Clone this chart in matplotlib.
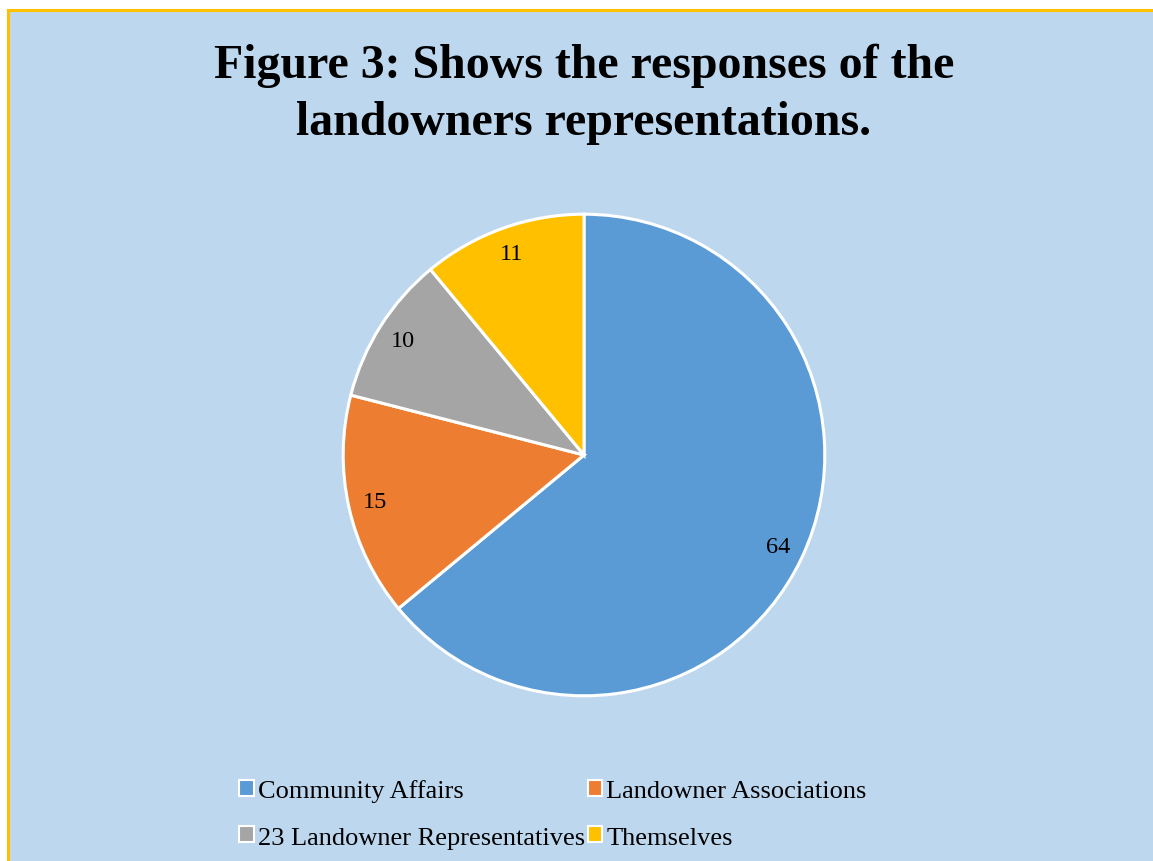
import matplotlib.pyplot as plt
from matplotlib.patches import Patch, Rectangle

LABELS = ['Community Affairs', 'Landowner Associations',
          '23 Landowner Representatives', 'Themselves']
VALUES = [64, 15, 10, 11]
COLORS = ['#5B9BD5', '#ED7D31', '#A5A5A5', '#FFC000']

TITLE = 'Figure 3: Shows the responses of the\nlandowners representations.'

BG = '#BDD7EE'
W, H = 1153, 862

fig = plt.figure(figsize=(W / 100, H / 100), dpi=100)
fig.patch.set_facecolor('white')

# chart area background with gold border on top/left (rest cut off)
fig.patches.append(Rectangle((8 / W, 0), 1, 1 - 11 / H, transform=fig.transFigure,
                             facecolor=BG, edgecolor='none', zorder=-5))
fig.lines.append(plt.Line2D([8 / W, 8 / W], [0, 1 - 11 / H], transform=fig.transFigure,
                            color='#FFC000', linewidth=2.2, zorder=-4))
fig.lines.append(plt.Line2D([8 / W, 1], [1 - 11 / H, 1 - 11 / H], transform=fig.transFigure,
                            color='#FFC000', linewidth=2.2, zorder=-4))

fig.text(584 / W, 1 - 94 / H, TITLE, ha='center', va='center', fontsize=34.5,
         fontweight='bold', family='Liberation Serif', linespacing=1.38)

# pie axes: center (584, 456), radius 242
r = 242
ax = fig.add_axes([(584 - r) / W, 1 - (456 + r) / H, 2 * r / W, 2 * r / H])
ax.set_facecolor('none')
wedges, texts = ax.pie(VALUES, colors=COLORS, startangle=90, counterclock=False,
                       labels=[str(v) for v in VALUES], labeldistance=0.89,
                       wedgeprops=dict(edgecolor='white', linewidth=2.2),
                       textprops=dict(fontsize=17.5, family='Liberation Serif'))
for t in texts:
    t.set_horizontalalignment('center')
    t.set_verticalalignment('center')
ax.set_xlim(-1.005, 1.005)
ax.set_ylim(-1.005, 1.005)
ax.set_aspect('equal')

# legend fills column-major, so reorder for row-major layout
order = [0, 2, 1, 3]
handles = [Patch(facecolor=COLORS[i], edgecolor='white', linewidth=1.5) for i in order]
fig.legend(handles, [LABELS[i] for i in order], ncol=2, loc='center',
           bbox_to_anchor=(553 / W, 1 - 815 / H),
           frameon=False, prop=dict(family='Liberation Serif', size=19),
           handlelength=0.55, handleheight=0.55, handletextpad=0.15,
           columnspacing=0.1, labelspacing=0.9)

fig.savefig('out.png', dpi=100, facecolor=fig.get_facecolor())
